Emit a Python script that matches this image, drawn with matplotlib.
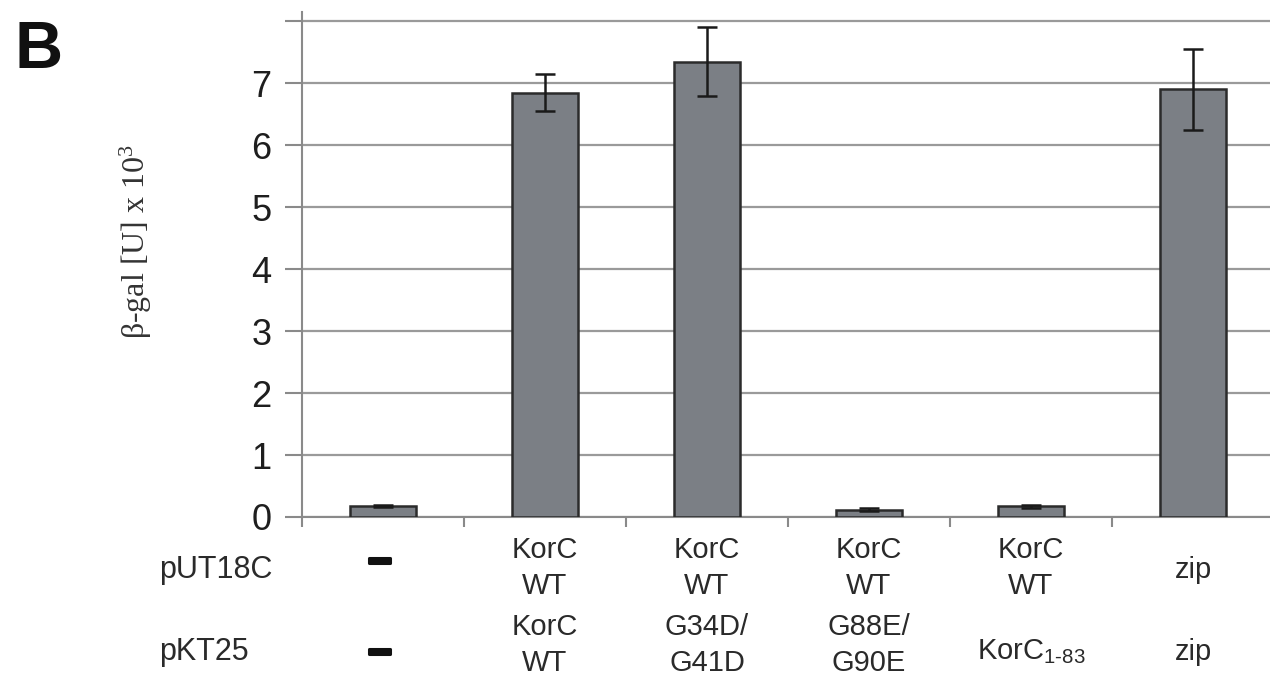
import matplotlib
matplotlib.use("Agg")
import matplotlib.pyplot as plt
import matplotlib.patheffects as pe
from matplotlib.transforms import blended_transform_factory

# ---- data ----
pUT18C = ["–", "KorC\nWT", "KorC\nWT", "KorC\nWT", "KorC\nWT", "zip"]
pKT25 = ["–", "KorC\nWT", "G34D/\nG41D", "G88E/\nG90E", "KorC$_{1\u201083}$", "zip"]
values = [0.18, 6.85, 7.35, 0.12, 0.17, 6.90]
errors = [0.02, 0.30, 0.55, 0.02, 0.02, 0.65]
yticks = [0, 1, 2, 3, 4, 5, 6, 7, 8]
yticklabels = ["0", "1", "2", "3", "4", "5", "6", "7", ""]

plt.rcParams["font.family"] = ["Liberation Sans", "DejaVu Sans"]
plt.rcParams["mathtext.default"] = "regular"

W, H = 1270, 698
fig = plt.figure(figsize=(W / 100, H / 100), dpi=100)
left, right, bottom, top = 302, 1274, 517, 12
ax = fig.add_axes([left / W, 1 - bottom / H, (right - left) / W, (bottom - top) / H])

x = list(range(len(values)))
ax.bar(x, values, width=0.41, color="#7b7f85", edgecolor="#2b2b2b", linewidth=1.8, zorder=3)
ax.errorbar(x, values, yerr=errors, fmt="none", ecolor="#1a1a1a", elinewidth=1.8,
            capsize=7.5, capthick=1.8, zorder=4)

ax.set_xlim(-0.5, len(values) - 0.5)
ax.set_ylim(0, 8.15)
ax.set_yticks(yticks)
ax.set_yticklabels(yticklabels)
ax.set_xticks([i - 0.5 for i in range(len(values) + 1)])
ax.set_xticklabels([])
ax.yaxis.grid(True, color="#9a9a9a", linewidth=1.6, zorder=0)
ax.set_axisbelow(True)
for s in ["top", "right"]:
    ax.spines[s].set_visible(False)
for s in ["left", "bottom"]:
    ax.spines[s].set_color("#8a8a8a")
    ax.spines[s].set_linewidth(1.5)
ax.tick_params(axis="y", direction="out", length=12, width=1.5, color="#8a8a8a",
               labelsize=26, pad=10, labelcolor="#1e1e1e")
ax.tick_params(axis="x", direction="out", length=7, width=1.5, color="#8a8a8a")

trans = blended_transform_factory(ax.transData, fig.transFigure)
fs = 21
for i, (a, b) in enumerate(zip(pUT18C, pKT25)):
    for lab, yc in ((a, 568), (b, 645)):
        if lab == "–":
            yy = 562 if yc == 568 else 653
            ax.text(i - 0.02, 1 - (yy - 1) / H, lab, ha="center", va="center", fontsize=31,
                    fontweight="bold", color="#111111", transform=trans,
                    path_effects=[pe.withStroke(linewidth=2.2, foreground="#111111")])
        else:
            if "\n" not in lab:
                yc = 570 if yc == 568 else 652
            ax.text(i, 1 - yc / H, lab, ha="center", va="center", fontsize=fs,
                    color="#2a2a2a", linespacing=1.35, transform=trans)

fig.text(159 / W, 1 - 570 / H, "pUT18C", ha="left", va="center", fontsize=fs + 1, color="#2a2a2a")
fig.text(159 / W, 1 - 652 / H, "pKT25", ha="left", va="center", fontsize=fs + 1, color="#2a2a2a")

fig.text(136 / W, 1 - 242 / H, "\u03b2-gal [U] x 10$^3$", rotation=90, ha="center", va="center",
         fontsize=23, family=["Liberation Serif", "DejaVu Serif"], color="#333333")
fig.text(39 / W, 1 - 51 / H, "B", ha="center", va="center", fontsize=48, fontweight="bold",
         color="#111111")

fig.savefig("out.png", dpi=100)
